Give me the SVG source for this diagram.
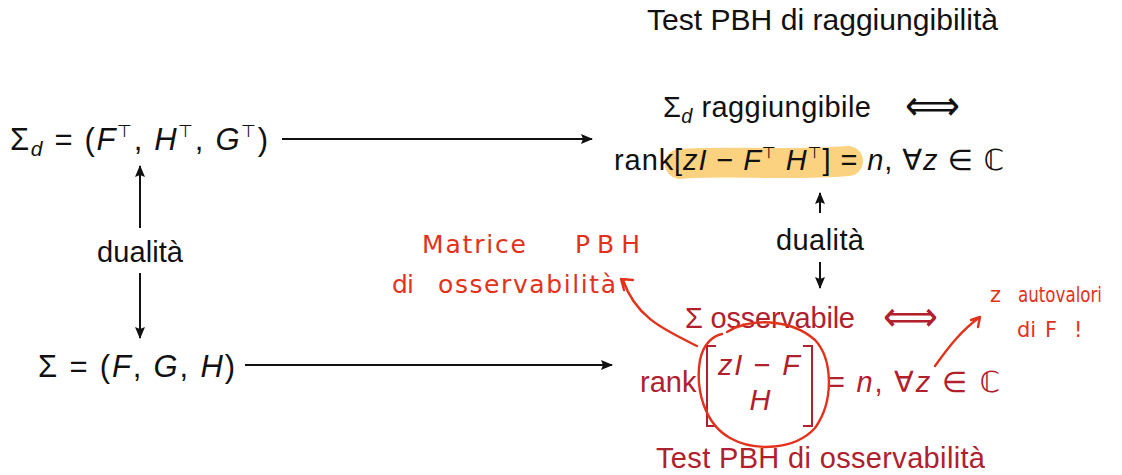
<svg xmlns="http://www.w3.org/2000/svg" width="1122" height="475" viewBox="0 0 1122 475">
<defs>
<marker id="ah" markerWidth="12" markerHeight="10" refX="11" refY="5" orient="auto" markerUnits="userSpaceOnUse">
<path d="M0,0 L12,5 L0,10 L2,5 z" fill="#111"/>
</marker>
<style>
text{font-family:"Liberation Sans","DejaVu Sans",sans-serif;font-size:29px;fill:#111}
.i{font-style:italic}
.sym{font-family:"DejaVu Sans",sans-serif}
.big{font-size:31px}
.arr{font-size:42px}
.red{fill:#b1202d}
.red tspan{fill:#b1202d}
.hw{font-family:"DejaVu Sans",sans-serif;font-size:25px;fill:#e2321c}
.hws{font-size:21px}
.hwl{fill:none;stroke:#e2321c;stroke-width:2.4;stroke-linecap:round;stroke-linejoin:round}
.con{stroke:#111;stroke-width:2;fill:none}
</style>
</defs>
<rect width="1122" height="475" fill="#fff"/>

<g id="title-top"><text x="647" y="30" textLength="351" lengthAdjust="spacingAndGlyphs">Test PBH di raggiungibilità</text></g>

<g id="sigma-d">
<text x="10" y="150" class="big" textLength="258">Σ<tspan class="i" font-size="21" dy="6">d</tspan><tspan dy="-6"> = (</tspan><tspan class="i">F</tspan><tspan class="sym" font-size="17" dy="-13">⊤</tspan><tspan dy="13">, </tspan><tspan class="i">H</tspan><tspan class="sym" font-size="17" dy="-13">⊤</tspan><tspan dy="13">, </tspan><tspan class="i">G</tspan><tspan class="sym" font-size="17" dy="-13">⊤</tspan><tspan dy="13">)</tspan></text>
</g>

<g id="sigma">
<text x="38" y="377" class="big" textLength="197">Σ = (<tspan class="i">F</tspan>, <tspan class="i">G</tspan>, <tspan class="i">H</tspan>)</text>
</g>

<g id="dualita-left"><text x="97" y="262" textLength="86">dualità</text></g>

<g id="raggiungibile">
<path d="M680,164 C720,160 790,166 848,161" stroke="#f8b62b" stroke-opacity="0.6" stroke-width="30" stroke-linecap="round" fill="none"/>
<text x="663" y="117" textLength="208">Σ<tspan class="i" font-size="20" dy="6">d</tspan><tspan dy="-6"> raggiungibile</tspan></text>
<text x="905" y="120" class="sym arr" textLength="55" lengthAdjust="spacingAndGlyphs">⟺</text>
<text x="614" y="170" textLength="390">rank[<tspan class="i">zI</tspan> − <tspan class="i">F</tspan><tspan class="sym" font-size="16" dy="-12">⊤</tspan><tspan dy="12"> </tspan><tspan class="i">H</tspan><tspan class="sym" font-size="16" dy="-12">⊤</tspan><tspan dy="12">] = </tspan><tspan class="i">n</tspan>, <tspan class="sym">∀</tspan><tspan class="i">z</tspan> <tspan class="sym">∈ ℂ</tspan></text>
</g>

<g id="dualita-right"><text x="776" y="250" textLength="88">dualità</text></g>

<g id="osservabile" class="red">
<text x="685" y="328" class="red" textLength="170">Σ osservabile</text>
<text x="883" y="331" class="red sym arr" textLength="55" lengthAdjust="spacingAndGlyphs">⟺</text>
<text x="640" y="392" class="red">rank</text>
<path d="M716,346 H707 V426 H716 M803,346 H812 V426 H803" stroke="#b1202d" stroke-width="2" fill="none"/>
<text x="718" y="375" class="red" textLength="82"><tspan class="i">zI</tspan> − <tspan class="i">F</tspan></text>
<text x="760" y="410" class="red i" text-anchor="middle">H</text>
<text x="828" y="392" class="red" textLength="172">= <tspan class="i">n</tspan>, <tspan class="sym">∀</tspan><tspan class="i">z</tspan> <tspan class="sym">∈ ℂ</tspan></text>
<text x="656" y="468" class="red" textLength="329">Test PBH di osservabilità</text>
</g>

<g id="connectors">
<line class="con" x1="282" y1="139" x2="592" y2="139" marker-end="url(#ah)"/>
<line class="con" x1="245" y1="365" x2="612" y2="365" marker-end="url(#ah)"/>
<line class="con" x1="140" y1="228" x2="140" y2="166" marker-end="url(#ah)"/>
<line class="con" x1="140" y1="273" x2="140" y2="338" marker-end="url(#ah)"/>
<line class="con" x1="820" y1="213" x2="820" y2="193" marker-end="url(#ah)"/>
<line class="con" x1="820" y1="262" x2="820" y2="288" marker-end="url(#ah)"/>
</g>

<g id="annotations">
<text x="422" y="253" class="hw" textLength="104">Matrice</text>
<text x="575" y="253" class="hw" textLength="65">PBH</text>
<text x="392" y="293" class="hw" textLength="22">di</text>
<text x="438" y="293" class="hw" textLength="178">osservabilità</text>
<path class="hwl" d="M727,332 C750,318 790,318 815,340 C832,358 835,400 815,428 C795,450 755,452 730,438 C705,424 695,390 700,360 C703,345 712,336 722,334"/>
<path class="hwl" d="M697,346 C665,330 636,318 623,280 M621,279 L633,280 M621,279 L624,290"/>
<path class="hwl" d="M935,366 C950,345 962,330 980,317 M980,317 L971,320 M980,317 L978,327"/>
<text x="990" y="302" class="hw hws">z</text>
<text x="1018" y="302" class="hw hws" textLength="84" lengthAdjust="spacingAndGlyphs">autovalori</text>
<text x="1017" y="337" class="hw hws">di</text>
<text x="1045" y="337" class="hw hws">F</text>
<text x="1074" y="337" class="hw hws">!</text>
</g>
</svg>
